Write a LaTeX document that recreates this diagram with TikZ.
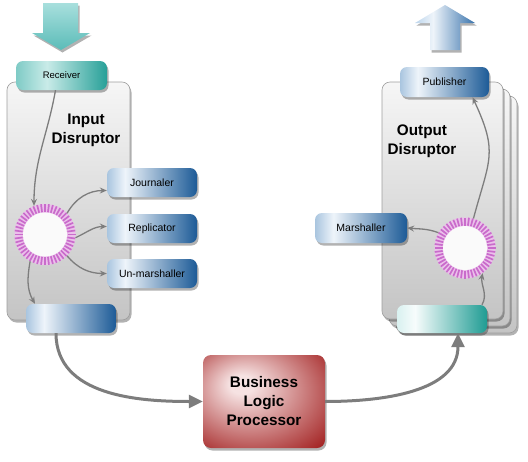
\documentclass[tikz,border=0pt]{standalone}
\usepackage{fontspec}
\setmainfont{Liberation Sans}
\usetikzlibrary{arrows.meta,shadows,calc}

\definecolor{blueL}{HTML}{A9C5DF}
\definecolor{blueH}{HTML}{EEF4FA}
\definecolor{blueD}{HTML}{1D5B97}
\definecolor{tealL}{HTML}{7FCBC6}
\definecolor{tealH}{HTML}{C9EBE8}
\definecolor{tealD}{HTML}{27A098}
\definecolor{teal2L}{HTML}{D9F1F0}
\definecolor{teal2H}{HTML}{F7FCFC}
\definecolor{teal2D}{HTML}{1F9C93}
\definecolor{redL}{HTML}{F6E2E2}
\definecolor{redD}{HTML}{9C1212}
\definecolor{panelT}{HTML}{F6F6F6}
\definecolor{panelB}{HTML}{C4C4C4}
\definecolor{panelE}{HTML}{9E9E9E}
\definecolor{connC}{HTML}{7D7D7D}
\definecolor{ringbg}{HTML}{EBC0EB}
\definecolor{ringfg}{HTML}{C96BCB}
\definecolor{arrowTealT}{HTML}{A8DFDD}
\definecolor{arrowTealB}{HTML}{5BBCB8}
\definecolor{arrowBlueL}{HTML}{BCD5EC}
\definecolor{arrowBlueD}{HTML}{3973AC}

\pgfdeclarehorizontalshading{blueshade}{100bp}{color(0bp)=(blueL); color(25bp)=(blueL); color(35bp)=(blueH); color(75bp)=(blueD); color(100bp)=(blueD)}
\pgfdeclarehorizontalshading{tealshade}{100bp}{color(0bp)=(tealL); color(25bp)=(tealL); color(42bp)=(tealH); color(75bp)=(tealD); color(100bp)=(tealD)}
\pgfdeclarehorizontalshading{tealtwoshade}{100bp}{color(0bp)=(teal2L); color(25bp)=(teal2L); color(35bp)=(teal2H); color(75bp)=(teal2D); color(100bp)=(teal2D)}
\pgfdeclarehorizontalshading{upshade}{100bp}{color(0bp)=(arrowBlueL); color(25bp)=(arrowBlueL); color(40bp)=(blueH); color(75bp)=(arrowBlueD); color(100bp)=(arrowBlueD)}
\pgfdeclareradialshading{redshade}{\pgfpoint{-10bp}{10bp}}{color(0bp)=(redL); color(5bp)=(redL); color(42bp)=(redD); color(60bp)=(redD)}

\tikzset{
  shadowed/.style={drop shadow={shadow xshift=1.5pt, shadow yshift=-2.5pt, opacity=.3, fill=black}},
  panel/.style={shadowed, rounded corners=8pt, draw=panelE, line width=0.6pt,
    top color=panelT, bottom color=panelB, minimum width=121pt, minimum height=237pt, inner sep=0pt},
  boxnode/.style={shadowed, rounded corners=7pt, minimum width=90pt, minimum height=29pt,
    inner sep=0pt, font=\fontsize{10.5}{12}\selectfont},
  bluenode/.style={boxnode, shading=blueshade},
  tealnode/.style={boxnode, shading=tealshade},
  tealtwonode/.style={boxnode, shading=tealtwoshade},
  titletext/.style={font=\fontsize{15.3}{19}\selectfont\bfseries, align=center, inner sep=0pt},
  ringnode/.style={circle, fill=ringbg, minimum size=61pt, inner sep=0pt},
  ringtick/.style={draw=ringfg, line width=1.7pt},
  smallarrow/.style={draw=connC, line width=1.3pt, -{Stealth[length=7pt,width=6pt,inset=2.5pt]}},
  bigarrow/.style={draw=connC, line width=3pt, -{Triangle[length=14pt,width=13pt]}},
}

\begin{document}
\begin{tikzpicture}[x=1pt,y=-1pt]
\useasboundingbox (0,0) rectangle (528,461);

% ---------- Input side ----------
\path[shadowed, top color=arrowTealT, bottom color=arrowTealB]
  (43,3) -- (78,3) -- (78,33) -- (90,33) -- (61,50) -- (32,33) -- (43,33) -- cycle;

\node[panel, minimum width=123pt, minimum height=238pt] (inP) at (68.5,201) {};
\node[tealnode, minimum width=91pt, font=\fontsize{9.5}{11}\selectfont] (rcv) at (61.5,75.5) {Receiver};
\node[titletext] (inT) at (86,130.5) {Input\\Disruptor};

\node[bluenode] (jour) at (152,182.5) {Journaler};
\node[bluenode] (rep) at (152,228.5) {Replicator};
\node[bluenode] (unm) at (152,273.5) {Un-marshaller};

\node[ringnode] (ringI) at (45,234.5) {};
\fill[white!96!gray] (ringI.center) circle (22pt);
\foreach \a in {0,7.5,...,355}
  \draw[ringtick] ($(ringI.center)+(\a:22.5pt)$) -- ($(ringI.center)+(\a:30.5pt)$);

\node[bluenode] (inb) at (71,318.5) {};

\draw[smallarrow] ([xshift=-6pt]rcv.south) to[out=-100,in=90] (ringI.111);
\draw[smallarrow] (ringI.44) to[out=60,in=180] ([yshift=-8pt]jour.west);
\draw[smallarrow] (ringI.-6) to[out=25,in=180] ([yshift=2pt]rep.west);
\draw[smallarrow] (ringI.-44) to[out=-50,in=180] (unm.west);
\draw[smallarrow] (ringI.-119) to[out=-100,in=120] ([xshift=-36pt]inb.north);

% ---------- Output side ----------
\path[shadowed, shading=upshade]
  (430,50) -- (430,23) -- (415,23) -- (445,5) -- (475,23) -- (460,23) -- (460,50) -- cycle;

\node[panel] (outP3) at (456.5,214.5) {};
\node[panel] (outP2) at (449.5,207.5) {};
\node[panel] (outP1) at (442.5,200.5) {};
\node[bluenode, minimum width=89pt, minimum height=30pt] (pub) at (444.5,82) {Publisher};
\node[titletext] (outT) at (422,141.5) {Output\\Disruptor};

\node[bluenode, minimum width=92pt, minimum height=30pt] (mar) at (361,228) {Marshaller};

\node[ringnode] (ringO) at (465,248) {};
\fill[white!96!gray] (ringO.center) circle (22pt);
\foreach \a in {0,7.5,...,355}
  \draw[ringtick] ($(ringO.center)+(\a:22.5pt)$) -- ($(ringO.center)+(\a:30.5pt)$);

\node[tealtwonode, minimum height=28pt] (outb) at (442,319) {};

\draw[smallarrow] (ringO.74) to[out=75,in=-65,looseness=1.3] ([xshift=28pt]pub.south);
\draw[smallarrow] (ringO.150) to[out=160,in=-5] (mar.east);
\draw[smallarrow] ([xshift=40pt]outb.north) to[out=60,in=-100] (ringO.-55);

% ---------- Business logic ----------
\node[shadowed, rounded corners=8pt, shading=redshade, minimum width=122pt, minimum height=93pt,
      inner sep=0pt, titletext] (blp) at (264,401.5) {Business\\Logic\\Processor};

\draw[bigarrow] ([xshift=-15pt]inb.south) to[out=-90,in=180] (blp.west);
\draw[bigarrow] (blp.east) to[out=0,in=-90] ([xshift=16pt]outb.south);
\end{tikzpicture}
\end{document}
